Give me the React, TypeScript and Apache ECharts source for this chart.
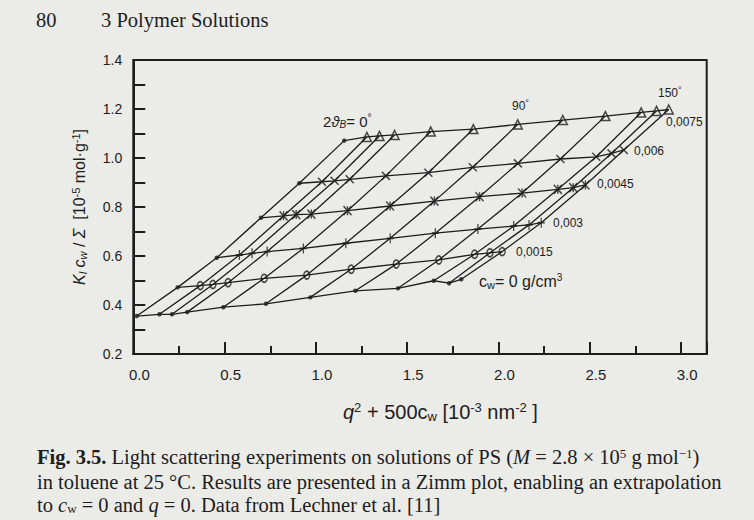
import React, { useEffect, useRef } from 'react';
import * as echarts from 'echarts';

// ---- data ----
// concentrations c_w (g/cm^3), one row of points each
const concentrations = [0, 0.0015, 0.003, 0.0045, 0.006, 0.0075];
const concLabels = ['c_w= 0 g/cm³', '0,0015', '0,003', '0,0045', '0,006', '0,0075'];
// x position (q², 10^-3 nm^-2) of every scattering angle on the c_w = 0 row (first = extrapolated 2θ = 0)
const q2 = [0.019, 0.143, 0.212, 0.295, 0.493, 0.726, 0.969, 1.216, 1.449, 1.645, 1.729, 1.796];
// horizontal shift (500 c_w term) of each concentration row
const cShift = [0, 0.224, 0.438, 0.680, 0.890, 1.136];
// K c / Σ values (10^-5 mol/g), one list per concentration row, in angle order
const yC0 = [0.355, 0.362, 0.362, 0.371, 0.391, 0.405, 0.431, 0.458, 0.468, 0.499, 0.489, 0.505];
const yC1 = [0.472, 0.479, 0.484, 0.491, 0.509, 0.522, 0.546, 0.567, 0.584, 0.607, 0.613, 0.618];
const yC2 = [0.593, 0.604, 0.611, 0.618, 0.631, 0.652, 0.672, 0.693, 0.710, 0.722, 0.727, 0.736];
const yC3 = [0.756, 0.764, 0.769, 0.771, 0.785, 0.804, 0.824, 0.842, 0.857, 0.872, 0.879, 0.890];
const yC4 = [0.897, 0.903, 0.907, 0.913, 0.927, 0.940, 0.962, 0.978, 0.996, 1.005, 1.019, 1.033];
const yC5 = [1.071, 1.086, 1.090, 1.094, 1.108, 1.118, 1.137, 1.155, 1.171, 1.186, 1.192, 1.198];
const rowsY = [yC0, yC1, yC2, yC3, yC4, yC5];

// axis ticks
const xMin = 0;
const xMax = 3.14;
const xMajor = 0.5;
const xMinor = 0.25;
const yMin = 0.2;
const yMax = 1.4;
const yMajor = 0.2;

const INK = '#1d1d1d';
const SANS = '"Liberation Sans", Arial, Helvetica, sans-serif';
const SERIF = '"Liberation Serif", "Times New Roman", serif';
const BG = '#ebebe8';

const ROW_SYMBOLS: any[] = [
  null,
  { symbol: 'circle', size: [6, 8] },
  { symbol: 'path://M4,0L4,10M0,5L8,5', size: [7, 10] },
  { symbol: 'path://M0,0L10,10M10,0L0,10M5,0L5,10', size: [8, 9] },
  { symbol: 'path://M0,0L10,10M10,0L0,10', size: [8, 8] },
  { symbol: 'triangle', size: [9, 9] },
];

function txt(x: number, y: number, text: string, size: number, family: string, rich?: any, extra?: any) {
  return {
    type: 'text',
    x,
    y,
    silent: true,
    style: {
      text,
      fill: INK,
      fontSize: size,
      fontFamily: family,
      textAlign: 'left',
      textVerticalAlign: 'middle',
      align: 'left',
      verticalAlign: 'middle',
      rich,
      ...(extra || {}),
    },
  };
}

export default function App() {
  const ref = useRef<HTMLDivElement>(null);
  useEffect(() => {
    if (!ref.current) return;
    const chart = echarts.init(ref.current, null, { renderer: 'svg' });

    const rowPts = rowsY.map((ys, j) => ys.map((y, i) => [q2[i] + cShift[j], y]));
    const lineStyle = { color: INK, width: 1.3 };

    const series: any[] = [];
    rowPts.forEach((pts, j) => {
      series.push({
        type: 'line', name: 'c=' + concentrations[j], data: pts, symbol: 'none',
        lineStyle, silent: true, z: 2,
      });
    });
    q2.forEach((_, i) => {
      series.push({
        type: 'line', name: 'angle' + i, data: rowPts.map((r) => r[i]), symbol: 'none',
        lineStyle, silent: true, z: 2,
      });
    });
    // extrapolated points (c = 0 row and 2θ = 0 column)
    const dots = rowPts[0].concat(rowPts.slice(1).map((r) => r[0]));
    series.push({
      type: 'scatter', data: dots, symbol: 'circle', symbolSize: 4.5,
      itemStyle: { color: INK }, silent: true, z: 4,
    });
    rowPts.forEach((pts, j) => {
      if (j === 0) return;
      const m = ROW_SYMBOLS[j];
      series.push({
        type: 'scatter', data: pts.slice(1), symbol: m.symbol, symbolSize: m.size,
        itemStyle: { color: 'none', borderColor: INK, borderWidth: 1.5 }, silent: true, z: 4,
      });
    });

    const sub = { fontSize: 11, fontFamily: SANS, padding: [7, 0, 0, 0] };
    const sup = { fontSize: 11, fontFamily: SANS, padding: [0, 0, 7, 0] };

    const option: any = {
      animation: false,
      backgroundColor: BG,
      grid: {
        left: 133.3, top: 60, right: 47.3, bottom: 166, show: true,
        borderColor: INK, borderWidth: 2, containLabel: false, outerBoundsMode: 'none',
      },
      xAxis: [
        {
          type: 'value', min: xMin, max: xMax, interval: xMajor, position: 'bottom',
          axisLine: { show: true, onZero: false, lineStyle: { color: INK, width: 2 } },
          axisTick: { show: true, inside: true, length: 12, lineStyle: { color: INK, width: 2 } },
          axisLabel: {
            show: true, color: INK, fontSize: 15, fontFamily: SANS, margin: 13, padding: [0, 0, 0, 12],
            formatter: (v: number) => (Math.abs(v / xMajor - Math.round(v / xMajor)) < 1e-6 ? v.toFixed(1) : ''),
          },
          splitLine: { show: false },
        },
        {
          type: 'value', min: xMin, max: xMax, interval: xMinor, position: 'bottom',
          axisLine: { show: false, onZero: false },
          axisTick: { show: true, inside: true, length: 8, lineStyle: { color: INK, width: 2 } },
          axisLabel: { show: false },
          splitLine: { show: false },
        },
      ],
      yAxis: {
        type: 'value', min: yMin, max: yMax, interval: yMajor,
        axisLine: { show: true, onZero: false, lineStyle: { color: INK, width: 2 } },
        axisTick: { show: true, inside: true, length: 12, lineStyle: { color: INK, width: 2 } },
        minorTick: { show: true, splitNumber: 2, length: 12, lineStyle: { color: INK, width: 2 } },
        axisLabel: { color: INK, fontSize: 14, fontFamily: SANS, margin: 11, formatter: (v: number) => v.toFixed(1) },
        splitLine: { show: false },
        minorSplitLine: { show: false },
        name: '{i|K}{sb|l} {i|c}{sb|w} / {i|Σ}  [10{sp|-5} mol·g{sp|-1}]',
        nameLocation: 'middle',
        nameGap: 45,
        nameRotate: 90,
        nameTextStyle: {
          color: INK, fontSize: 16, fontFamily: SANS,
          rich: {
            i: { fontSize: 16, fontFamily: SANS, fontStyle: 'italic' },
            sb: { ...sub, fontStyle: 'italic' },
            sp: sup,
          },
        },
      },
      series,
      graphic: [
        // page header
        txt(36, 20, '80', 20.5, SERIF),
        txt(101, 20, '3 Polymer Solutions', 20.5, SERIF),
        // axis title
        txt(343, 412, '{i|q}{sp|2} + 500c{sb|w} [10{sp|-3} nm{sp|-2} ]', 20, SANS, {
          i: { fontSize: 20, fontFamily: SANS, fontStyle: 'italic' },
          sb: { fontSize: 13, fontFamily: SANS, padding: [8, 0, 0, 0] },
          sp: { fontSize: 13, fontFamily: SANS, padding: [0, 0, 9, 0] },
        }),
        // in-plot labels
        txt(323, 121, '2{i|ϑ}{sb|B}= 0{sp|°}', 15, SANS, {
          i: { fontSize: 15, fontFamily: SANS, fontStyle: 'italic' },
          sb: { fontSize: 10, fontFamily: SANS, fontStyle: 'italic', padding: [6, 0, 0, 0] },
          sp: { fontSize: 10, fontFamily: SANS, padding: [0, 0, 7, 0] },
        }),
        txt(512, 106, '90{sp|°}', 12, SANS, { sp: { fontSize: 9, fontFamily: SANS, padding: [0, 0, 6, 0] } }),
        txt(658, 93, '150{sp|°}', 12, SANS, { sp: { fontSize: 9, fontFamily: SANS, padding: [0, 0, 6, 0] } }),
        txt(666, 122, concLabels[5], 12, SANS),
        txt(634, 151, concLabels[4], 12, SANS),
        txt(597, 184, concLabels[3], 12, SANS),
        txt(553, 222.5, concLabels[2], 12, SANS),
        txt(516, 252, concLabels[1], 12, SANS),
        txt(479, 281, 'c{sb|w}= 0 g/cm{sp|3}', 16, SANS, {
          sb: { fontSize: 11, fontFamily: SANS, padding: [7, 0, 0, 0] },
          sp: { fontSize: 10, fontFamily: SANS, padding: [0, 0, 8, 0] },
        }),
        // caption
        txt(37, 457, '{b|Fig. 3.5.} Light scattering experiments on solutions of PS ({i|M} = 2.8 × 10{sp|5} g mol{sp|−1})', 20.5, SERIF, {
          b: { fontSize: 20.5, fontFamily: SERIF, fontWeight: 'bold' },
          i: { fontSize: 20.5, fontFamily: SERIF, fontStyle: 'italic' },
          sp: { fontSize: 13, fontFamily: SERIF, padding: [0, 0, 8, 0] },
        }),
        txt(37, 482, 'in toluene at 25 °C. Results are presented in a Zimm plot, enabling an extrapolation', 20.5, SERIF),
        txt(37, 505, 'to {i|c}{sb|w} = 0 and {i|q} = 0. Data from Lechner et al. [11]', 20.5, SERIF, {
          i: { fontSize: 20.5, fontFamily: SERIF, fontStyle: 'italic' },
          sb: { fontSize: 13, fontFamily: SERIF, padding: [6, 0, 0, 0] },
        }),
      ],
    };
    chart.setOption(option);
    return () => chart.dispose();
  }, []);

  return (
    <div
      ref={ref}
      style={{ position: 'fixed', left: 0, top: 0, width: 754, height: 520, background: BG }}
    />
  );
}
